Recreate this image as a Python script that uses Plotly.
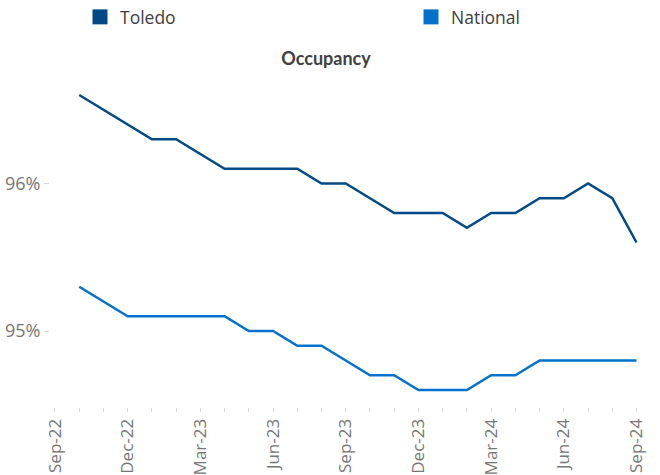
import plotly.graph_objects as go

months = ["Sep-22", "Oct-22", "Nov-22", "Dec-22", "Jan-23", "Feb-23", "Mar-23", "Apr-23",
          "May-23", "Jun-23", "Jul-23", "Aug-23", "Sep-23", "Oct-23", "Nov-23", "Dec-23",
          "Jan-24", "Feb-24", "Mar-24", "Apr-24", "May-24", "Jun-24", "Jul-24", "Aug-24", "Sep-24"]
data_months = months[1:]
toledo = [96.6, 96.5, 96.4, 96.3, 96.3, 96.2, 96.1, 96.1, 96.1, 96.1, 96.0, 96.0,
          95.9, 95.8, 95.8, 95.8, 95.7, 95.8, 95.8, 95.9, 95.9, 96.0, 95.9, 95.6]
national = [95.3, 95.2, 95.1, 95.1, 95.1, 95.1, 95.1, 95.0, 95.0, 94.9, 94.9, 94.8,
            94.7, 94.7, 94.6, 94.6, 94.6, 94.7, 94.7, 94.8, 94.8, 94.8, 94.8, 94.8]
tick_labels = [m if i % 3 == 0 else "" for i, m in enumerate(months)]
y_ticks = [95, 96]
y_tick_text = ["95%", "96%"]
series = [("Toledo", toledo, "#014a86", "legend"), ("National", national, "#0472cc", "legend2")]

fig = go.Figure()
for name, vals, col, lg in series:
    fig.add_trace(go.Scatter(x=data_months, y=vals, mode="lines", name=name,
                             line=dict(color=col, width=2.5), showlegend=False))
for name, vals, col, lg in series:
    fig.add_trace(go.Scatter(x=[None], y=[None], mode="markers", name=name, legend=lg,
                             marker=dict(symbol="square", size=15, color=col)))

legend_font = dict(family="Open Sans", size=17.5, color="#404040")
PW, PH, L, T = 593, 332, 50, 75
fig.update_layout(
    width=660, height=475,
    margin=dict(l=L, r=17, t=T, b=68, autoexpand=False),
    paper_bgcolor="white", plot_bgcolor="white",
    title=dict(text="<b>Occupancy</b>", x=326 / 660, xref="container", xanchor="center",
               y=1 - 58.5 / 475, yref="container", yanchor="middle",
               font=dict(family="Lato", size=18, color="#404040")),
    legend=dict(orientation="h", x=(80 - L) / PW, xanchor="left",
                y=1 + (T - 17) / PH, yanchor="middle", font=legend_font, itemsizing="trace"),
    legend2=dict(orientation="h", x=(411 - L) / PW, xanchor="left",
                 y=1 + (T - 17) / PH, yanchor="middle", font=legend_font, itemsizing="trace"),
    xaxis=dict(type="category", categoryorder="array", categoryarray=months,
               range=[-0.206, 24.268], tickmode="array", tickvals=months, ticktext=tick_labels,
               tickangle=-90, ticks="outside", ticklen=4, tickcolor="#d9d9d9",
               showgrid=False, showline=False, zeroline=False,
               tickfont=dict(family="Open Sans", size=17, color="#767676")),
    yaxis=dict(range=[94.4847, 96.7356], tickmode="array", tickvals=y_ticks, ticktext=y_tick_text,
               ticks="outside", ticklen=5, tickcolor="#d9d9d9",
               showgrid=False, showline=False, zeroline=False,
               tickfont=dict(family="Open Sans", size=18, color="#767676")),
)
fig.write_html("out.html")
